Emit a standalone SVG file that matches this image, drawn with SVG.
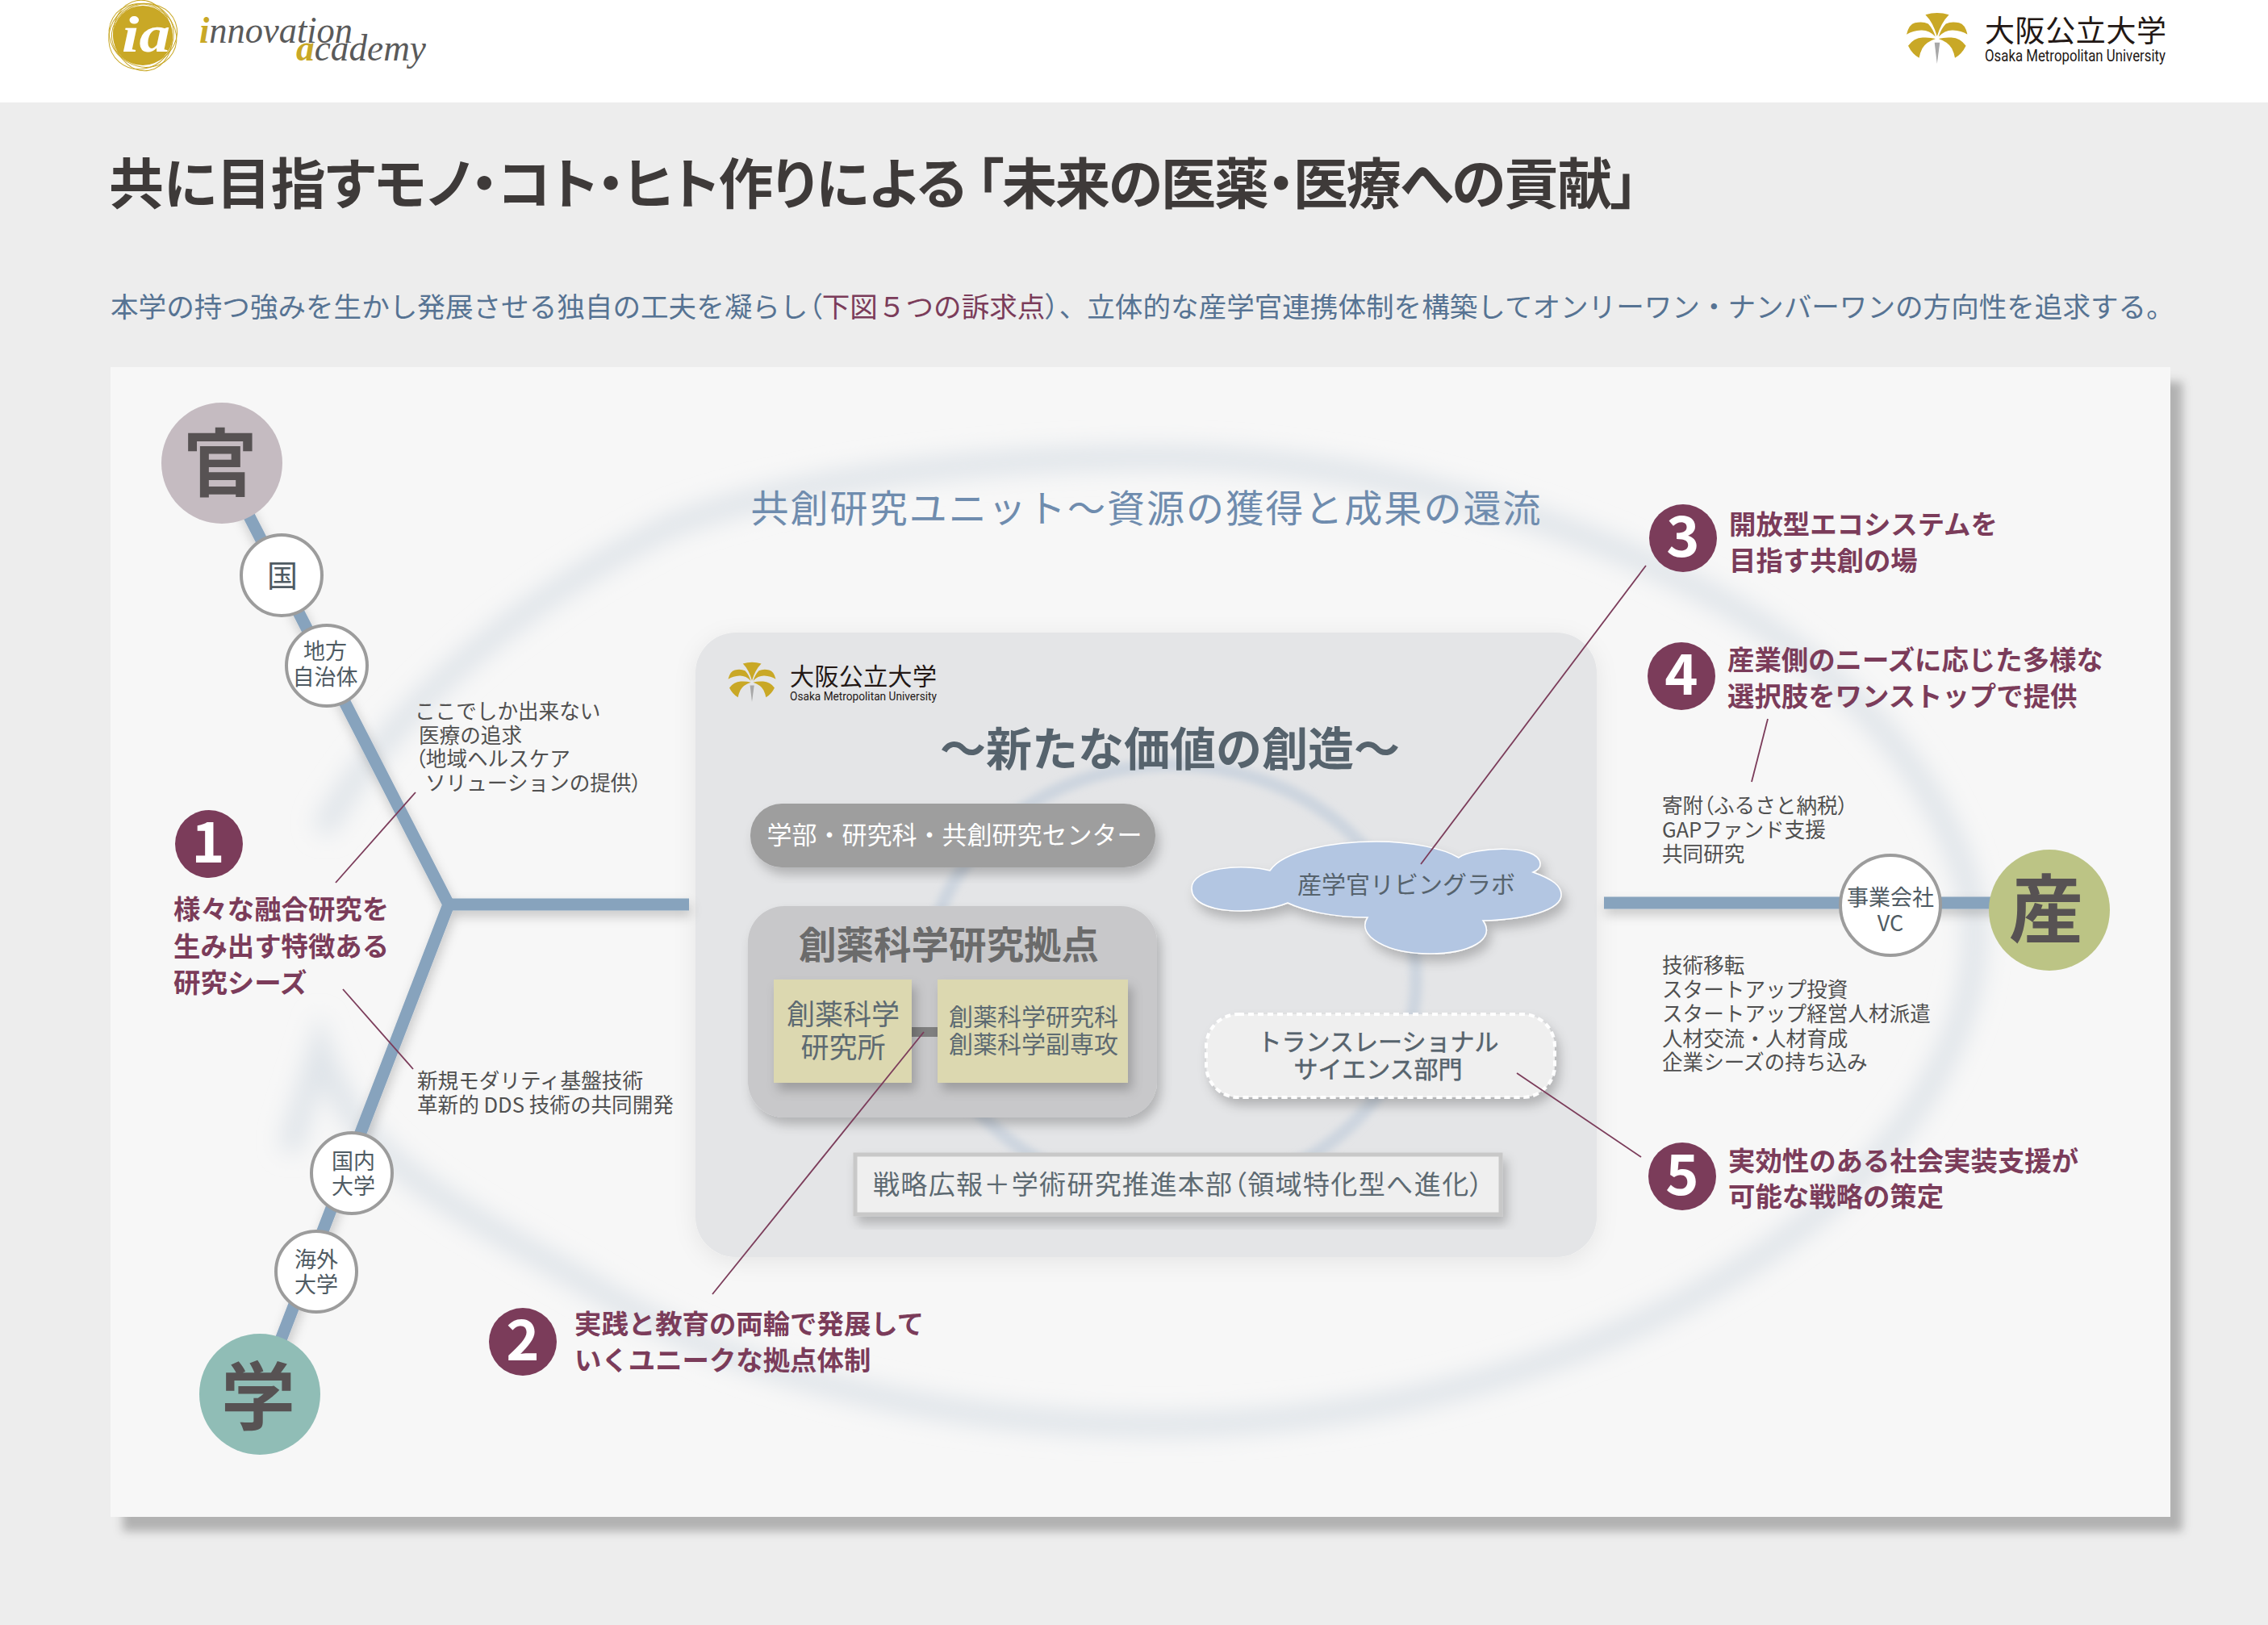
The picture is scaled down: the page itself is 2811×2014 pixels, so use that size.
<svg xmlns="http://www.w3.org/2000/svg" width="2811" height="2014" viewBox="0 0 2811 2014">
<style>
text{font-family:"Noto Sans CJK JP","Noto Sans",sans-serif}
.p{font-feature-settings:"palt"}
.m{text-anchor:middle}
.b{font-weight:700}
.item{font-size:33.4px;font-weight:700;fill:#7b3c5a}
.num{font-size:70px;font-weight:700;fill:#fff;text-anchor:middle}
.big{font-size:92px;font-weight:700;fill:#575253;text-anchor:middle}
.note{font-size:25.6px;fill:#505050}
.sm{font-size:27px;fill:#4f5b63;text-anchor:middle}
.ring{fill:#fff;stroke:#9c9c9c;stroke-width:4}
.mark{fill:#7b3c5a}
.axis{stroke:#87a3bd;stroke-width:15;fill:none}
.lead{stroke:#7b3c5a;stroke-width:1.8;fill:none}
.inner{fill:#5d6a72}
.ser{font-family:"Liberation Serif",serif;font-style:italic;fill:#5a5a5a}
.gold{fill:#c9a826}
.scr{fill:none;stroke:#c9a826;stroke-width:1}
.trans{font-size:30px;fill:#56636d;stroke:#56636d;stroke-width:.5;text-anchor:middle}
</style>
<defs>
<filter id="sPanel" x="-5%" y="-5%" width="110%" height="110%"><feDropShadow dx="15" dy="18" stdDeviation="6" flood-color="#000" flood-opacity=".25"/></filter>
<filter id="sBox" x="-15%" y="-25%" width="130%" height="150%"><feDropShadow dx="5" dy="9" stdDeviation="7" flood-color="#000" flood-opacity=".22"/></filter>
<filter id="sSoft" x="-10%" y="-10%" width="120%" height="120%"><feDropShadow dx="0" dy="6" stdDeviation="14" flood-color="#000" flood-opacity=".07"/></filter>
<filter id="sLine" x="-20%" y="-20%" width="140%" height="140%"><feDropShadow dx="2" dy="7" stdDeviation="7" flood-color="#000" flood-opacity=".2"/></filter>
<filter id="bl1" filterUnits="userSpaceOnUse" x="138" y="455" width="2552" height="1425"><feGaussianBlur stdDeviation="14"/></filter>
<filter id="bl2" filterUnits="userSpaceOnUse" x="1000" y="800" width="900" height="800"><feGaussianBlur stdDeviation="4"/></filter>
<symbol id="ginkgo" viewBox="0 -1 75.6 64">
<path class="gold" d="M23.4 2.3Q37.8 -2.5 52.6 2.3Q43 12 37.8 29Q33 12 23.4 2.3Z"/>
<g id="leafs">
<path class="gold" d="M0 26.7Q3 14 10.5 12.3Q20 10 26.9 13.5Q33 20 35.8 29.5Q28 21 18 21.5Q8 22 0 26.7Z"/>
<path class="gold" d="M2 40.7Q9 31 20 30.5Q29 30 36 32Q24 36 19.5 44Q16.5 50 15.6 55.7Q7 51 2 40.7Z"/>
</g>
<use href="#leafs" transform="matrix(-1 0 0 1 75.6 0)"/>
<path fill="#a8a8a8" d="M34.7 36.7L41.3 36.7L37.8 63Z"/>
</symbol>
</defs>

<rect width="2811" height="2014" fill="#ededed"/>
<rect width="2811" height="127" fill="#fff"/>

<g id="logo-ia">
<circle class="gold" cx="177" cy="44" r="37"/>
<ellipse class="scr" cx="177" cy="44" rx="43" ry="38" transform="rotate(30 177 44)"/>
<ellipse class="scr" cx="177" cy="44" rx="44" ry="36" transform="rotate(80 177 44)"/>
<ellipse class="scr" cx="175" cy="45" rx="42" ry="39" transform="rotate(130 175 45)"/>
<ellipse class="scr" cx="179" cy="42" rx="41" ry="37" transform="rotate(160 179 42)"/>
<text x="151" y="64" font-size="64" font-weight="700" fill="#fff" style="font-family:'Liberation Serif',serif;font-style:italic" textLength="60" lengthAdjust="spacingAndGlyphs">ia</text>
<text class="ser" x="247" y="53" font-size="46" textLength="190" lengthAdjust="spacingAndGlyphs"><tspan fill="#c9a826" font-weight="700">i</tspan>nnovation</text>
<text class="ser" x="367" y="75" font-size="46" textLength="161" lengthAdjust="spacingAndGlyphs"><tspan fill="#c9a826" font-weight="700">a</tspan>cademy</text>
</g>
<g id="logo-omu">
<use href="#ginkgo" x="2363" y="15" width="75.6" height="64"/>
<text x="2460" y="52" font-size="37" fill="#231815" textLength="225">大阪公立大学</text>
<text x="2460" y="76" font-size="20" fill="#231815" textLength="224" lengthAdjust="spacingAndGlyphs" style="font-family:Roboto,sans-serif">Osaka Metropolitan University</text>
</g>

<text id="title" class="p" y="253" font-size="68" font-weight="700" fill="#3e3a39"><tspan x="135" textLength="1063">共に目指すモノ・コト・ヒト作りによる</tspan><tspan x="1210" textLength="820">「未来の医薬・医療への貢献」</tspan></text>
<text id="lead" x="137" y="393" font-size="34.6" fill="#567393">本学の持つ強みを生かし発展させる独自の工夫を凝らし<tspan class="p">（</tspan><tspan fill="#7b3c5a">下図５つの訴求点</tspan><tspan class="p">）</tspan>、立体的な産学官連携体制を構築してオンリーワン・ナンバーワンの方向性を追求する。</text>

<rect id="panel" x="137" y="455" width="2553" height="1425" fill="#f7f7f7" filter="url(#sPanel)"/>

<g id="swirl" filter="url(#bl1)" fill="none" stroke="#dfe4e9" stroke-width="28" stroke-linecap="round">
<path d="M405 1020C500 860 660 735 835 650C1000 590 1220 567 1433 567C1700 567 1950 640 2141 749C2300 840 2420 980 2446 1130C2460 1260 2380 1400 2256 1502C2050 1670 1750 1766 1434 1766C1180 1766 930 1710 762 1611C650 1545 560 1500 495 1445C440 1400 415 1350 397 1300L362 1415"/>
</g>

<g id="hub">
<rect x="862" y="784" width="1117" height="774" rx="50" fill="#e4e5e7" filter="url(#sSoft)"/>
<ellipse cx="1452" cy="1214" rx="303" ry="266" fill="none" stroke="#cdd5df" stroke-width="16" filter="url(#bl2)"/>
<use href="#ginkgo" x="902" y="820" width="60" height="50"/>
<text x="979" y="849" font-size="30" fill="#231815" textLength="182">大阪公立大学</text>
<text x="979" y="868" font-size="15.5" fill="#231815" textLength="182" lengthAdjust="spacingAndGlyphs" style="font-family:Roboto,sans-serif">Osaka Metropolitan University</text>
<text class="m b" x="1450" y="949" font-size="57" fill="#56636d">～新たな価値の創造～</text>
</g>

<g id="node-faculty">
<rect x="930" y="996" width="502" height="79" rx="39" fill="#9e9e9e" filter="url(#sBox)"/>
<text class="m" x="1183" y="1046" font-size="31" fill="#fff">学部・研究科・共創研究センター</text>
</g>
<g id="node-hub-drug">
<rect x="927" y="1123" width="507" height="262" rx="45" fill="#c8c8ca" filter="url(#sBox)"/>
<text class="m b" x="1176" y="1188" font-size="46.5" fill="#6b6b6b">創薬科学研究拠点</text>
<rect x="1130" y="1273" width="32" height="12" fill="#808080"/>
</g>
<g id="node-institute">
<rect x="959" y="1214" width="171" height="128" fill="#dcd8b0" filter="url(#sBox)"/>
<text class="m inner" x="1045" y="1270" font-size="35">創薬科学</text>
<text class="m inner" x="1045" y="1311" font-size="35">研究所</text>
</g>
<g id="node-graduate">
<rect x="1162" y="1214" width="236" height="128" fill="#dcd8b0" filter="url(#sBox)"/>
<text class="m inner" x="1281" y="1271" font-size="30">創薬科学研究科</text>
<text class="m inner" x="1281" y="1305" font-size="30">創薬科学副専攻</text>
</g>
<g id="node-livinglab">
<path d="M1596 1119C1560 1134 1477 1135 1477 1101C1477 1075 1540 1070 1574 1079C1590 1055 1650 1043 1706 1043C1750 1043 1790 1052 1808 1063C1825 1050 1909 1045 1909 1071C1909 1076 1905 1079 1900 1081C1925 1090 1935 1098 1935 1109C1935 1128 1890 1140 1838 1141C1855 1165 1820 1182 1772 1182C1720 1182 1680 1160 1695 1137C1650 1137 1615 1128 1596 1119Z" fill="#b3c6e2" stroke="#fff" stroke-width="1.5" filter="url(#sBox)"/>
<text class="m" x="1743" y="1107" font-size="30" fill="#56636d">産学官リビングラボ</text>
</g>
<g id="node-translational">
<rect x="1495" y="1257" width="432" height="103" rx="40" fill="#efefef" stroke="#fff" stroke-width="4" stroke-dasharray="7 5" filter="url(#sBox)"/>
<text class="trans" x="1708" y="1302">トランスレーショナル</text>
<text class="trans" x="1708" y="1336">サイエンス部門</text>
</g>
<g id="node-strategy">
<rect x="1060" y="1431" width="800" height="74" fill="#efefef" stroke="#c8c8c8" stroke-width="5" filter="url(#sBox)"/>
<text class="p" x="1082" y="1480" font-size="33" fill="#5d6a72" textLength="756">戦略広報＋学術研究推進本部（領域特化型へ進化）</text>
</g>

<g id="connectors">
<g filter="url(#sLine)">
<path class="axis" d="M275 574L556 1121L322 1728"/>
<path class="axis" d="M556 1121H854"/>
<path class="axis" d="M1988 1119H2480"/>
</g>
<path class="lead" d="M515 982L416 1094"/>
<path class="lead" d="M425 1226L512 1325"/>
<path class="lead" d="M1145 1279L883 1604"/>
<path class="lead" d="M2040 701L1761 1071"/>
<path class="lead" d="M2191 891L2171 969"/>
<path class="lead" d="M1880 1330L2034 1434"/>
</g>

<g id="node-gov"><circle cx="275" cy="574" r="75" fill="#c5bbc1"/><text class="big" x="273" y="608">官</text></g>
<g id="node-academia"><circle cx="322" cy="1728" r="75" fill="#90bdb6"/><text class="big" x="320" y="1765">学</text></g>
<g id="node-industry"><circle cx="2540" cy="1128" r="75" fill="#bcc485"/><text class="big" x="2536" y="1161">産</text></g>

<g id="node-country"><circle class="ring" cx="349" cy="713" r="50"/><text class="sm" x="350" y="727" style="font-size:38px">国</text></g>
<g id="node-local"><circle class="ring" cx="405" cy="825" r="50"/><text class="sm" x="403" y="817">地方</text><text class="sm" x="403" y="849">自治体</text></g>
<g id="node-domestic"><circle class="ring" cx="436" cy="1454" r="50"/><text class="sm" x="438" y="1449">国内</text><text class="sm" x="438" y="1480">大学</text></g>
<g id="node-overseas"><circle class="ring" cx="392" cy="1576" r="50"/><text class="sm" x="392" y="1571">海外</text><text class="sm" x="392" y="1602">大学</text></g>
<g id="node-vc"><circle class="ring" cx="2343" cy="1122" r="62"/><text class="sm" x="2343" y="1122">事業会社</text><text class="sm" x="2343" y="1154">VC</text></g>

<text id="unit-title" class="m" x="1420" y="647" font-size="47" fill="#6f8cae" textLength="979">共創研究ユニット～資源の獲得と成果の還流</text>

<g id="point-1">
<circle class="mark" cx="259" cy="1046" r="42"/><text class="num" x="258" y="1069">1</text>
<text class="item" x="215" y="1139">様々な融合研究を</text>
<text class="item" x="215" y="1185">生み出す特徴ある</text>
<text class="item" x="215" y="1230">研究シーズ</text>
</g>
<g id="point-2">
<circle class="mark" cx="648" cy="1663" r="42"/><text class="num" x="648" y="1686">2</text>
<text class="item" x="712" y="1653">実践と教育の両輪で発展して</text>
<text class="item" x="712" y="1698">いくユニークな拠点体制</text>
</g>
<g id="point-3">
<circle class="mark" cx="2086" cy="667" r="42"/><text class="num" x="2086" y="690">3</text>
<text class="item" x="2143" y="662">開放型エコシステムを</text>
<text class="item" x="2143" y="707">目指す共創の場</text>
</g>
<g id="point-4">
<circle class="mark" cx="2084" cy="838" r="42"/><text class="num" x="2084" y="861">4</text>
<text class="item" x="2141" y="830">産業側のニーズに応じた多様な</text>
<text class="item" x="2141" y="875">選択肢をワンストップで提供</text>
</g>
<g id="point-5">
<circle class="mark" cx="2085" cy="1458" r="42"/><text class="num" x="2085" y="1481">5</text>
<text class="item" x="2142" y="1451">実効性のある社会実装支援が</text>
<text class="item" x="2142" y="1495">可能な戦略の策定</text>
</g>

<g id="notes">
<text class="note" x="514" y="891">ここでしか出来ない</text>
<text class="note" x="519" y="921">医療の追求</text>
<text class="note" x="515" y="950"><tspan class="p">（</tspan>地域ヘルスケア</text>
<text class="note" x="527" y="980">ソリューションの提供<tspan class="p">）</tspan></text>
<text class="note" x="517" y="1349">新規モダリティ基盤技術</text>
<text class="note" x="517" y="1379">革新的 DDS 技術の共同開発</text>
<text class="note" x="2060" y="1008">寄附<tspan class="p">（</tspan>ふるさと納税<tspan class="p">）</tspan></text>
<text class="note" x="2060" y="1038">GAPファンド支援</text>
<text class="note" x="2060" y="1068">共同研究</text>
<text class="note" x="2060" y="1206">技術移転</text>
<text class="note" x="2060" y="1236">スタートアップ投資</text>
<text class="note" x="2060" y="1266">スタートアップ経営人材派遣</text>
<text class="note" x="2060" y="1297">人材交流・人材育成</text>
<text class="note" x="2060" y="1326">企業シーズの持ち込み</text>
</g>
</svg>
